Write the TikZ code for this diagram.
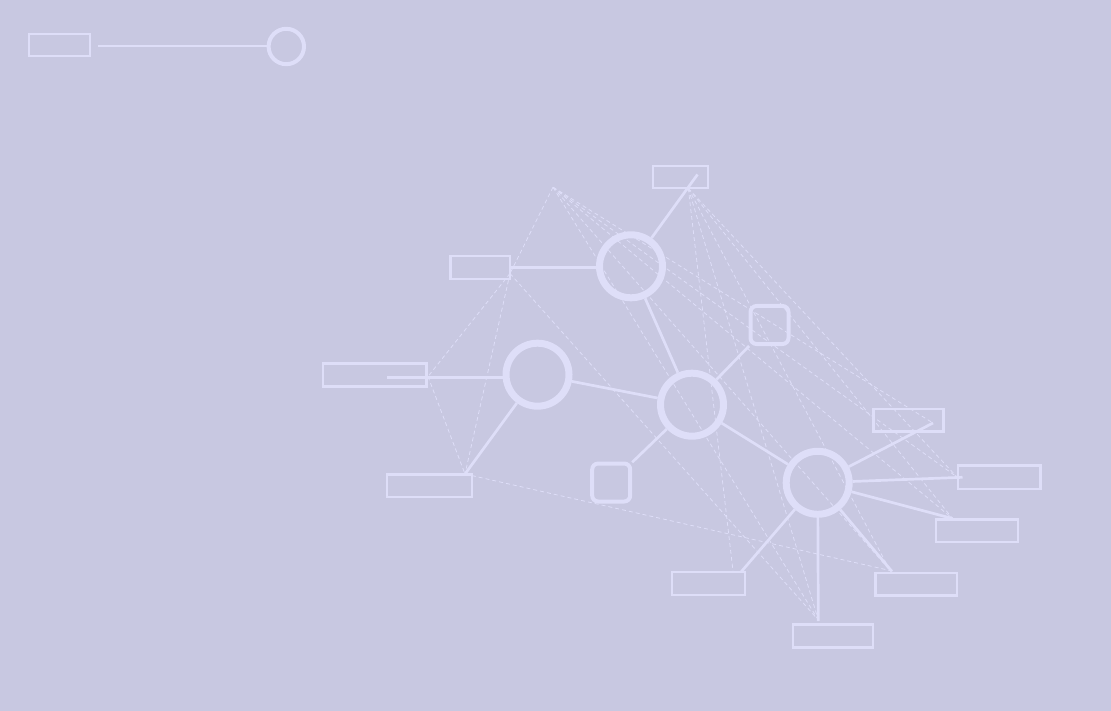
\documentclass[tikz,border=0pt]{standalone}
\definecolor{bg}{RGB}{200,200,225}
\definecolor{ln}{RGB}{222,222,248}
\tikzset{
  hub/.style={circle, draw=ln, line width=7pt, minimum size=63pt, inner sep=0pt},
  box/.style={rectangle, draw=ln, line width=2.2pt, inner sep=0pt},
  sq/.style={rectangle, rounded corners=6pt, draw=ln, line width=4pt, minimum size=38pt, inner sep=0pt},
  link/.style={draw=ln, line width=2.7pt},
  weak/.style={draw=ln, line width=0.8pt, dash pattern=on 4pt off 3pt},
}
\begin{document}
\begin{tikzpicture}[x=1pt,y=-1pt]
\fill[bg] (0,0) rectangle (1111,711);
\useasboundingbox (0,0) rectangle (1111,711);
% legend
\node[box, minimum width=61.6pt, minimum height=22pt] (lgr) at (59.5,45.3) {};
\node[circle, draw=ln, line width=4pt, minimum size=35.4pt, inner sep=0pt] (lgc) at (286.3,46.5) {};
\coordinate (lgs) at (98,46.5);
\draw[link, line width=2pt] (lgs) -- (lgc.west);
% boxes
\node[box, minimum width=55.6pt, minimum height=22.3pt] (r1) at (680.5,177.2) {};
\node[box, minimum width=59.5pt, minimum height=23pt] (r2) at (480.2,267.5) {};
\node[box, minimum width=103.5pt, minimum height=23pt] (r3) at (374.7,375) {};
\node[box, minimum width=85pt, minimum height=22.5pt] (r4) at (429.5,485.7) {};
\node[box, minimum width=70pt, minimum height=22.5pt] (r5) at (908.5,420.2) {};
\node[box, minimum width=82.5pt, minimum height=23.5pt] (r6) at (999.2,477.2) {};
\node[box, minimum width=82pt, minimum height=22.5pt] (r7) at (977,530.7) {};
\node[box, minimum width=73pt, minimum height=23pt] (r8) at (708.5,583.5) {};
\node[box, minimum width=81.5pt, minimum height=22.5pt] (r9) at (916.2,584.2) {};
\node[box, minimum width=80pt, minimum height=23pt] (r10) at (833,636) {};
% hubs
\node[hub] (c1) at (631,266.3) {};
\node[hub] (c2) at (537.5,374.7) {};
\node[hub] (c3) at (692,404.7) {};
\node[hub] (c4) at (817.7,482.8) {};
\node[sq] (s1) at (769.5,325) {};
\node[sq] (s2) at (611.2,482.5) {};
% anchor points
\coordinate (p1) at (697.5,174.5);
\coordinate (p3) at (387,377.3);
\coordinate (p4) at (465,474);
\coordinate (p5) at (933,423);
\coordinate (p6) at (962.5,477.3);
\coordinate (p7) at (952.5,518.5);
\coordinate (p8) at (741,572);
\coordinate (p9) at (892,571.5);
\coordinate (p10) at (818.3,621);
\coordinate (A) at (553,187.2);
\coordinate (B) at (688.3,188.3);
\coordinate (h2) at (510,273.5);
\coordinate (h3) at (428,376.5);
\coordinate (h6) at (957,477);
\coordinate (h8) at (733,571);
\coordinate (h9) at (890,570.5);
\coordinate (h10) at (818.3,620);
% dashed links
\draw[weak] (A) -- (h2);
\draw[weak] (A) -- (h6);
\draw[weak] (A) -- (p7);
\draw[weak] (A) -- (h9);
\draw[weak] (A) -- (h10);
\draw[weak] (A) -- (p5);
\draw[weak] (B) -- (h8);
\draw[weak] (B) -- (h10);
\draw[weak] (B) -- (h9);
\draw[weak] (B) -- (p7);
\draw[weak] (B) -- (h6);
\draw[weak] (h2) -- (h3);
\draw[weak] (h2) -- (p4);
\draw[weak] (h2) -- (h10);
\draw[weak] (h3) -- (p4);
\draw[weak] (p4) -- (h9);
% solid links
\draw[link] (c1) -- (p1);
\draw[link] (r2.east) -- (r2.east -| c1.west);
\draw[link] (p3) -- (p3 -| c2.west);
\draw[link] (c2) -- (p4);
\draw[link] (c1) -- (c3);
\draw[link] (c2) -- (c3);
\draw[link] (c3) -- (s1);
\draw[link] (c3) -- (s2);
\draw[link] (c3) -- (c4);
\draw[link] (c4) -- (p5);
\draw[link] (c4) -- (p6);
\draw[link] (c4) -- (p7);
\draw[link] (c4) -- (p9);
\draw[link] (c4) -- (p10);
\draw[link] (c4) -- (p8);
\end{tikzpicture}
\end{document}
